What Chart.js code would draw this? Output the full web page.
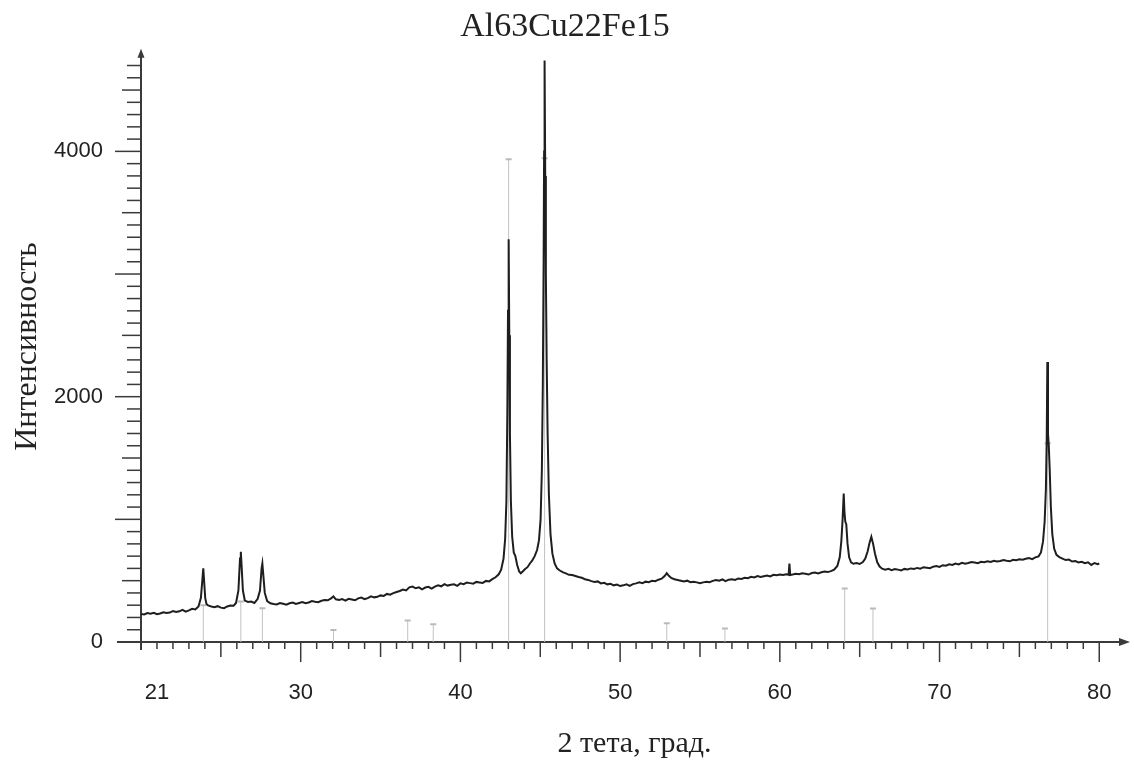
<!DOCTYPE html>
<html>
<head>
<meta charset="utf-8">
<title>Al63Cu22Fe15</title>
<script src="https://cdn.jsdelivr.net/npm/chart.js@4.4.0/dist/chart.umd.min.js"></script>
<style>
  body { margin: 0; background: #fff; }
  #wrap { width: 1134px; height: 762px; }
</style>
</head>
<body>
<div id="wrap"><canvas id="xrd"></canvas></div>
<script>
'use strict';

// 2 theta, degrees
var twoTheta = [
  20.0, 20.2, 20.4, 20.6, 20.8, 21.0, 21.2, 21.4, 21.6, 21.8, 22.0, 22.2, 22.4, 22.6, 22.8, 23.0, 23.2, 23.4, 23.6,
  23.75, 23.85, 23.9, 23.95, 24.02, 24.1, 24.2, 24.4, 24.6, 24.8, 25.0, 25.2, 25.4, 25.6, 25.8, 25.95,
  26.1, 26.2, 26.25, 26.3, 26.38, 26.5, 26.7, 26.9, 27.1, 27.3, 27.45, 27.55, 27.6, 27.65, 27.75, 27.9,
  28.1, 28.3, 28.5, 28.7, 28.9, 29.1, 29.3, 29.5, 29.7, 29.9, 30.1, 30.3, 30.5, 30.7, 30.9, 31.1, 31.3, 31.5, 31.7, 31.9,
  32.05, 32.2, 32.4, 32.6, 32.8, 33.0, 33.2, 33.4, 33.6, 33.8, 34.0, 34.2, 34.4, 34.6, 34.8, 35.0, 35.2, 35.4, 35.6, 35.8,
  36.0, 36.2, 36.4, 36.6, 36.8, 37.0, 37.2, 37.4, 37.6, 37.8, 38.0, 38.2, 38.4, 38.6, 38.8, 39.0, 39.2, 39.4, 39.6, 39.8,
  40.0, 40.2, 40.4, 40.6, 40.8, 41.0, 41.2, 41.4, 41.6, 41.8, 42.0, 42.2, 42.4, 42.55, 42.7, 42.8, 42.88, 42.94, 42.98,
  43.02, 43.06, 43.1, 43.16, 43.24, 43.34, 43.44, 43.55, 43.68, 43.78, 43.9, 44.05, 44.2, 44.35, 44.5, 44.65, 44.8, 44.92,
  45.02, 45.1, 45.16, 45.21, 45.24, 45.27, 45.31, 45.35, 45.4, 45.46, 45.54, 45.64, 45.76, 45.9, 46.05, 46.2, 46.4, 46.6, 46.8,
  47.0, 47.2, 47.4, 47.6, 47.8, 48.0, 48.2, 48.4, 48.6, 48.8, 49.0, 49.2, 49.4, 49.6, 49.8, 50.0, 50.2, 50.4, 50.6, 50.8,
  51.0, 51.2, 51.4, 51.6, 51.8, 52.0, 52.2, 52.4, 52.6, 52.8, 52.92, 53.05, 53.2, 53.4, 53.6, 53.8, 54.0, 54.2, 54.4, 54.6, 54.8,
  55.0, 55.2, 55.4, 55.6, 55.8, 56.0, 56.2, 56.4, 56.6, 56.8, 57.0, 57.2, 57.4, 57.6, 57.8, 58.0, 58.2, 58.4, 58.6, 58.8,
  59.0, 59.2, 59.4, 59.6, 59.8, 60.0, 60.2, 60.4, 60.55, 60.6, 60.65, 60.8, 61.0, 61.2, 61.4, 61.6, 61.8, 62.0, 62.2, 62.4,
  62.6, 62.8, 63.0, 63.2, 63.4, 63.6, 63.75, 63.85, 63.93, 64.0, 64.05, 64.1, 64.16, 64.24, 64.34, 64.46, 64.6, 64.8, 65.0,
  65.2, 65.35, 65.5, 65.62, 65.73, 65.84, 65.96, 66.1, 66.25, 66.4, 66.6, 66.8, 67.0, 67.2, 67.4, 67.6, 67.8, 68.0, 68.2,
  68.4, 68.6, 68.8, 69.0, 69.2, 69.4, 69.6, 69.8, 70.0, 70.2, 70.4, 70.6, 70.8, 71.0, 71.2, 71.4, 71.6, 71.8, 72.0, 72.2,
  72.4, 72.6, 72.8, 73.0, 73.2, 73.4, 73.6, 73.8, 74.0, 74.2, 74.4, 74.6, 74.8, 75.0, 75.2, 75.4, 75.6, 75.8, 76.0, 76.2,
  76.35, 76.48, 76.58, 76.66, 76.71, 76.75, 76.79, 76.84, 76.9, 76.97, 77.06, 77.18, 77.32, 77.5, 77.7, 77.9, 78.1, 78.3,
  78.5, 78.7, 78.9, 79.1, 79.3, 79.5, 79.7, 79.9, 80.0
];

// measured intensity, counts
var intensity = [
  228, 224, 236, 231, 238, 226, 232, 242, 236, 240, 252, 244, 250, 262, 248, 258, 270, 266, 290,
  360, 520, 600, 500, 360, 310, 298, 290, 284, 292, 280, 276, 290, 298, 296, 318,
  420, 680, 735, 620, 420, 338, 326, 330, 318, 350, 420, 600, 640, 560, 400, 334,
  316, 310, 306, 318, 312, 304, 316, 322, 310, 318, 326, 316, 322, 334, 328, 324, 336, 342, 340, 356,
  372, 348, 342, 350, 338, 352, 346, 340, 356, 362, 350, 358, 372, 364, 368, 380, 376, 392, 386, 398,
  408, 416, 428, 420, 446, 452, 438, 446, 430, 444, 450, 436, 452, 462, 454, 472, 460, 466, 470, 458,
  478, 472, 484, 480, 476, 490, 486, 482, 498, 494, 512, 528, 552, 590, 680, 840, 1150, 1900, 2700,
  3283, 2500, 1700, 1150, 860, 730, 700, 630, 575, 560, 575, 595, 610, 640, 665, 700, 750, 830,
  1000, 1400, 2100, 3100, 4000, 4741, 3800, 3000, 2300, 1700, 1200, 880, 720, 640, 600, 585, 570, 560, 548,
  546, 538, 530, 524, 512, 506, 496, 490, 494, 478, 482, 470, 474, 462, 468, 456, 462, 470, 458, 472,
  478, 486, 480, 492, 488, 500, 496, 508, 516, 540, 562, 540, 522, 512, 506, 500, 494, 500, 488, 492, 486,
  480, 486, 492, 488, 498, 506, 500, 510, 496, 508, 512, 506, 518, 514, 524, 520, 532, 526, 538, 530,
  536, 542, 534, 548, 544, 550, 546, 552, 548, 640, 546, 550, 556, 552, 560, 556, 550, 562, 566, 558,
  568, 574, 570, 578, 590, 620, 690, 820, 1000, 1210, 1050, 980, 960, 800, 690, 650, 638, 644, 636,
  652, 680, 740, 810, 858, 800, 720, 650, 615, 598, 590, 596, 586, 594, 590, 584, 596, 592, 600,
  596, 604, 598, 610, 606, 602, 614, 620, 612, 626, 622, 634, 628, 640, 632, 646, 638, 644, 652, 648,
  642, 654, 650, 658, 652, 662, 656, 660, 668, 662, 658, 670, 666, 674, 670, 678, 684, 676, 690, 698,
  730, 820, 980, 1250, 1650, 2283, 1700, 1600, 1400, 1100, 880, 760, 710, 692, 680, 668, 672, 656,
  660, 648, 654, 642, 650, 628, 644, 634, 640
];

// reference (card) lines: position and relative height
var stickPos = [23.9, 26.25, 27.6, 32.05, 36.7, 38.3, 43.02, 45.27, 52.92, 56.56, 64.06, 65.83, 76.77];
var stickHeight = [300, 330, 275, 98, 175, 144, 3935, 3943, 152, 111, 437, 274, 1620];

var xTickLabels = [21, 30, 40, 50, 60, 70, 80];
var yTickLabels = [0, 2000, 4000];

var curve = twoTheta.map(function (x, i) { return {x: x, y: intensity[i]}; });
var sticks = [];
var caps = [];
stickPos.forEach(function (x, i) {
  sticks.push({x: x, y: 0}, {x: x, y: stickHeight[i]}, {x: x, y: null});
  caps.push({x: x, y: stickHeight[i]});
});

// axis lines with arrows and tick marks of three lengths
var axesPlugin = {
  id: 'axes',
  beforeDatasetsDraw: function (chart) {
    var ctx = chart.ctx;
    var a = chart.chartArea;
    var x = chart.scales.x, y = chart.scales.y;
    var y0 = y.getPixelForValue(0);
    var x0 = x.getPixelForValue(20);
    ctx.save();
    ctx.strokeStyle = '#3a3a3a';
    ctx.fillStyle = '#3a3a3a';

    ctx.lineWidth = 1.5;
    x.ticks.forEach(function (t) {
      var v = t.value;
      if (v % 1 !== 0 || v <= 20 || v > 81) return;
      var len = v % 10 === 0 ? 20 : (v % 5 === 0 ? 15 : 7);
      var px = x.getPixelForValue(v);
      ctx.beginPath();
      ctx.moveTo(px, y0);
      ctx.lineTo(px, y0 + len);
      ctx.stroke();
    });
    y.ticks.forEach(function (t) {
      var v = t.value;
      if (v % 100 !== 0 || v <= 0 || v > 4700) return;
      var len = v % 1000 === 0 ? 26 : (v % 500 === 0 ? 19 : 14);
      var py = y.getPixelForValue(v);
      ctx.beginPath();
      ctx.moveTo(x0, py);
      ctx.lineTo(x0 - len, py);
      ctx.stroke();
    });

    ctx.lineWidth = 2;
    ctx.beginPath();
    ctx.moveTo(x0 - 24, y0);
    ctx.lineTo(a.right - 4, y0);
    ctx.moveTo(x0, y0 + 8);
    ctx.lineTo(x0, a.top + 4);
    ctx.stroke();

    ctx.beginPath();
    ctx.moveTo(a.right + 2, y0);
    ctx.lineTo(a.right - 9, y0 - 4);
    ctx.lineTo(a.right - 9, y0 + 4);
    ctx.closePath();
    ctx.fill();
    ctx.beginPath();
    ctx.moveTo(x0, a.top - 2);
    ctx.lineTo(x0 - 3.5, a.top + 7);
    ctx.lineTo(x0 + 3.5, a.top + 7);
    ctx.closePath();
    ctx.fill();
    ctx.restore();
  }
};

new Chart(document.getElementById('xrd'), {
  type: 'line',
  data: {
    datasets: [
      {
        label: 'Al63Cu22Fe15',
        data: curve,
        borderColor: '#1e1e1e',
        borderWidth: 2,
        pointRadius: 0,
        tension: 0,
        order: 0
      },
      {
        label: 'card',
        data: sticks,
        borderColor: '#c2c2c2',
        borderWidth: 1,
        pointRadius: 0,
        spanGaps: false,
        order: 2
      },
      {
        label: 'card tops',
        type: 'scatter',
        data: caps,
        pointStyle: 'line',
        pointRadius: 3,
        borderColor: '#bababa',
        pointBorderColor: '#bababa',
        borderWidth: 2,
        pointBorderWidth: 2,
        order: 1
      }
    ]
  },
  options: {
    responsive: true,
    maintainAspectRatio: false,
    animation: false,
    events: [],
    layout: { padding: { left: 0, right: 4, top: 0, bottom: 0 } },
    plugins: {
      legend: { display: false },
      tooltip: { enabled: false },
      title: {
        display: true,
        text: 'Al63Cu22Fe15',
        color: '#222',
        font: { family: 'Liberation Serif', size: 34, weight: 'normal' },
        padding: { top: 7, bottom: 3 }
      }
    },
    scales: {
      x: {
        type: 'linear',
        min: 20,
        max: 81.8,
        grid: { display: false },
        border: { display: false },
        ticks: {
          stepSize: 1,
          autoSkip: false,
          maxRotation: 0,
          padding: 30,
          color: '#222',
          font: { family: 'Liberation Sans', size: 22 },
          callback: function (v) { return xTickLabels.indexOf(v) >= 0 ? String(v) : ''; }
        },
        title: {
          display: true,
          text: '2 тета, град.',
          color: '#222',
          font: { family: 'Liberation Serif', size: 30 },
          padding: 0
        },
        afterFit: function (s) {
          s.height = 120;
          s.paddingLeft = 0;
          s.paddingRight = 0;
        }
      },
      y: {
        min: 0,
        max: 4820,
        grid: { display: false },
        border: { display: false },
        ticks: {
          stepSize: 100,
          autoSkip: false,
          padding: 30,
          color: '#222',
          font: { family: 'Liberation Sans', size: 22 },
          callback: function (v) { return yTickLabels.indexOf(v) >= 0 ? String(v) : ''; }
        },
        title: {
          display: true,
          text: 'Интенсивность',
          color: '#222',
          font: { family: 'Liberation Serif', size: 32 },
          padding: { top: 8, bottom: 0 }
        },
        afterFit: function (s) { s.width = 141; }
      }
    }
  },
  plugins: [axesPlugin]
});
</script>
</body>
</html>
